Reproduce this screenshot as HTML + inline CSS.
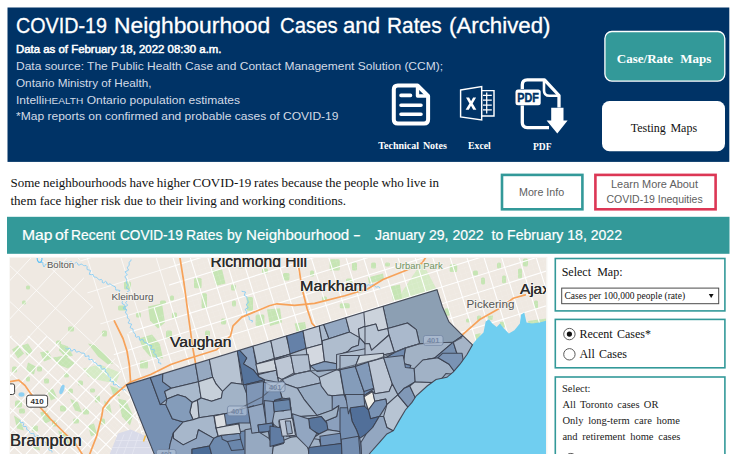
<!DOCTYPE html>
<html lang="en"><head><meta charset="utf-8"><title>COVID-19 Neighbourhood Cases and Rates (Archived)</title>
<style>
html,body{margin:0;padding:0;background:#fff;}
body{width:736px;height:454px;position:relative;overflow:hidden;font-family:"Liberation Sans",sans-serif;}
.a{position:absolute;box-sizing:border-box;}
.t{position:absolute;white-space:pre;line-height:1;transform-origin:0 50%;}
svg{position:absolute;display:block;}

</style></head>
<body>
<svg style="left:0;top:0" width="736" height="454" viewBox="0 0 736 454">
<!-- header -->
<rect x="7.5" y="7.5" width="721.8" height="154.4" fill="#003366"/>
<!-- nav buttons -->
<rect x="604.9" y="31.5" width="119.9" height="49.6" rx="7" fill="#339999" stroke="#fff" stroke-width="1.3"/>
<rect x="602" y="101" width="123" height="50.2" rx="7.5" fill="#fff"/>
<!-- info buttons -->
<rect x="502" y="174.9" width="80.4" height="34.4" fill="#fff" stroke="#339999" stroke-width="2.6"/>
<rect x="595.4" y="174.9" width="120.2" height="34.4" fill="#fff" stroke="#dc3755" stroke-width="2.6"/>
<!-- banner -->
<rect x="7" y="216.8" width="722.5" height="37" fill="#339999"/>
<!-- map frame -->
<rect x="9.4" y="256.9" width="538" height="200" fill="#f6f4f1"/>
<!-- right panel boxes -->
<g fill="#fff" stroke="#339999" stroke-width="1.6">
<rect x="555.3" y="258.5" width="169.6" height="52.4"/>
<rect x="555.3" y="319.4" width="169.6" height="48.4"/>
<rect x="555.3" y="377" width="169.6" height="90"/>
</g>
<!-- select -->
<rect x="561.7" y="288.1" width="157" height="15.6" fill="#fff" stroke="#4a4a4a" stroke-width="1"/>
<path d="M708.8 294.1 H713.6 L711.2 298.1 Z" fill="#111"/>
<!-- radios -->
<g fill="#fff" stroke="#5a5a5a" stroke-width="1">
<circle cx="569.4" cy="334.1" r="5.7"/>
<circle cx="569.4" cy="354.3" r="5.7"/>
<circle cx="570.8" cy="459.1" r="5.7"/>
</g>
<circle cx="569.4" cy="334.1" r="2.6" fill="#111"/>
</svg>

<svg style="left:0;top:0" width="736" height="170" viewBox="0 0 736 170">
<!-- Technical notes: document icon -->
<g fill="none" stroke="#fff" stroke-width="4" stroke-linejoin="round" stroke-linecap="round">
<path d="M397.8 85.5 H417.5 L428.1 96 V119.6 Q428.1 123.6 424.1 123.6 H397.8 Q393.8 123.6 393.8 119.6 V89.5 Q393.8 85.5 397.8 85.5 Z"/>
<path d="M417.5 86.5 V96 H427.5" stroke-width="3.4"/>
</g>
<g stroke="#fff" stroke-width="3.6" stroke-linecap="round">
<path d="M401 95.4 H410.5 M401 105.2 H421 M401 114.2 H421"/>
</g>
<!-- Excel icon -->
<g fill="none" stroke="#fff" stroke-width="1.45" stroke-linejoin="miter">
<path d="M460.6 90 L481.7 86.6 V120 L460.6 116.9 Z"/>
<path d="M481.7 90.6 H494 V115.9 H481.7"/>
<path d="M483 95.4 H491.8 M483 100.2 H491.8 M483 105 H491.8 M483 109.8 H491.8 M486.7 92.5 V113.5" stroke-width="1.25"/>
</g>
<path d="M466 97.4 L469.1 97.4 L471.1 101.3 L473.1 97.4 L476.1 97.4 L472.7 103.5 L476.4 109.8 L473.2 109.8 L471 105.7 L468.8 109.8 L465.6 109.8 L469.4 103.5 Z" fill="#fff"/>
<!-- PDF icon -->
<g fill="none" stroke="#fff" stroke-width="3.3" stroke-linejoin="round" stroke-linecap="butt">
<path d="M522.3 89 V84.8 Q522.3 79.8 527.3 79.8 H544.5 L559 95.5 V107.5"/>
<path d="M544 80.5 V90.5 Q544 95.8 549.5 95.8 H558.5" stroke-width="2.6"/>
<path d="M522.3 105.5 V122.6 Q522.3 127.6 527.3 127.6 H549"/>
</g>
<rect x="515.5" y="89.4" width="25.2" height="15.9" rx="2.5" fill="#fff"/>
<text x="517.3" y="101.9" font-family="'Liberation Sans',sans-serif" font-weight="700" font-size="12.4" fill="#003366" stroke="#003366" stroke-width="0.45" textLength="21.6" lengthAdjust="spacingAndGlyphs">PDF</text>
<path d="M551.2 107.7 H563.5 V120.6 H567.6 L557.3 133.5 L546.6 120.6 H551.2 Z" fill="#fff"/>
</svg>
<svg style="left:10.0px;top:257.5px" width="536.4" height="196.5" viewBox="10.0 257.5 536.4 196.5">
<defs>
<clipPath id="cT"><polygon points="126.5,384.4 437.0,289.2 442.4,306.2 449.0,321.4 461.0,333.4 472.5,344.3 467.0,354.0 460.0,363.7 453.4,371.4 446.9,376.8 436.0,379.0 427.2,385.5 416.3,395.3 412.0,401.9 405.4,409.5 398.9,420.4 393.4,430.2 386.9,433.5 379.3,442.2 370.5,452.0 366.0,458.0 156.0,458.0"/></clipPath>
<clipPath id="cN"><polygon points="169,250 560,250 560,460 150,460 126.5,384.4 118,364 112,350 128,333 169,292"/></clipPath>
<clipPath id="cR"><polygon points="78,250 169,250 169,292 128,333 112,350 88,295"/></clipPath>
<clipPath id="cW"><polygon points="0,250 78,250 88,295 118,364 100,362 45,335 0,335"/></clipPath>
<clipPath id="cW2"><polygon points="0,335 45,335 100,362 118,364 126.5,384.4 156,460 0,460"/></clipPath>
<clipPath id="cNu"><polygon points="118,350 140,335 175,300 180,258 470,258 560,258 560,460 150,460 126.5,384.4 118,364"/></clipPath>
</defs>
<rect x="0" y="250" width="560" height="210" fill="#efe9e2"/>
<polygon points="422.0,261.3 437.0,289.4 398.2,300.3 402.0,291.5 409.5,280.2" fill="#d6ebc6"/>
<polygon points="390.6,286.0 400.0,284.0 402.0,298.0 393.0,300.0" fill="#c6e5b4"/>
<polygon points="368.0,277.0 383.0,273.0 384.0,279.0 369.0,283.0" fill="#c6e5b4"/>
<rect x="449.7" y="263.8" width="7.5" height="7.6" rx="1.5" fill="#c6e5b4"/>
<rect x="444.6" y="307.8" width="5.1" height="7.5" rx="1.5" fill="#c6e5b4"/>
<rect x="502" y="275" width="4.0" height="7.7" rx="1.5" fill="#c6e5b4"/>
<rect x="500" y="321.6" width="5.0" height="5.0" rx="1.5" fill="#c6e5b4"/>
<rect x="497" y="262" width="4.0" height="6.0" rx="1.5" fill="#c6e5b4"/>
<rect x="473" y="270" width="5.0" height="5.0" rx="1.5" fill="#c6e5b4"/>
<rect x="481" y="277" width="4.0" height="7.0" rx="1.5" fill="#c6e5b4"/>
<rect x="518" y="268" width="4.0" height="10.0" rx="1.5" fill="#c6e5b4"/>
<rect x="523" y="258" width="5.0" height="8.0" rx="1.5" fill="#c6e5b4"/>
<rect x="534" y="300" width="4.0" height="8.0" rx="1.5" fill="#c6e5b4"/>
<rect x="477" y="315" width="4.0" height="5.0" rx="1.5" fill="#c6e5b4"/>
<rect x="466" y="318" width="4.0" height="4.0" rx="1.5" fill="#c6e5b4"/>
<polygon points="475.0,334.0 480.5,332.6 480.0,339.0 476.0,342.3" fill="#c6e5b4"/>
<polygon points="500.0,321.5 505.0,321.0 504.5,327.0 501.0,328.0" fill="#c6e5b4"/>
<polygon points="528.0,320.4 546.0,318.0 546.0,321.5 529.0,324.0" fill="#c6e5b4"/>
<polygon points="487.6,315.5 493.0,315.0 492.5,319.4 488.5,319.0" fill="#c6e5b4"/>
<polygon points="211.6,270.0 222.0,268.8 225.5,283.0 216.0,285.2" fill="#c6e5b4"/>
<rect x="194" y="277.6" width="7.6" height="10.1" rx="1.5" fill="#c6e5b4"/>
<rect x="201.6" y="292.7" width="5.4" height="15.1" rx="1.5" fill="#c6e5b4"/>
<rect x="246.8" y="296.5" width="6.2" height="13.8" rx="1.5" fill="#c6e5b4"/>
<rect x="255.6" y="314" width="8.8" height="11.4" rx="1.5" fill="#c6e5b4"/>
<polygon points="267.0,309.0 280.0,307.8 282.0,322.0 270.0,325.4" fill="#c6e5b4"/>
<polygon points="294.6,323.0 305.0,321.6 307.0,332.0 297.0,333.0" fill="#c6e5b4"/>
<rect x="283" y="272.6" width="6.5" height="7.4" rx="1.5" fill="#c6e5b4"/>
<rect x="329.7" y="258.8" width="10.1" height="11.2" rx="1.5" fill="#c6e5b4"/>
<rect x="339.8" y="302.8" width="10.0" height="5.0" rx="1.5" fill="#c6e5b4"/>
<rect x="231" y="284" width="5.0" height="6.0" rx="1.5" fill="#c6e5b4"/>
<rect x="238" y="262" width="5.0" height="6.0" rx="1.5" fill="#c6e5b4"/>
<rect x="262" y="268" width="6.0" height="5.0" rx="1.5" fill="#c6e5b4"/>
<rect x="310" y="270" width="4.0" height="6.0" rx="1.5" fill="#c6e5b4"/>
<rect x="352" y="262" width="5.0" height="8.0" rx="1.5" fill="#c6e5b4"/>
<rect x="346" y="278" width="6.0" height="6.0" rx="1.5" fill="#c6e5b4"/>
<rect x="322" y="296" width="5.0" height="5.0" rx="1.5" fill="#c6e5b4"/>
<rect x="232" y="300" width="4.0" height="6.0" rx="1.5" fill="#c6e5b4"/>
<rect x="221" y="318" width="5.0" height="6.0" rx="1.5" fill="#c6e5b4"/>
<rect x="205" y="330" width="5.0" height="6.0" rx="1.5" fill="#c6e5b4"/>
<rect x="354" y="288" width="8.0" height="4.0" rx="1.5" fill="#c6e5b4"/>
<rect x="371" y="262" width="5.0" height="6.0" rx="1.5" fill="#c6e5b4"/>
<rect x="385" y="262" width="5.0" height="4.0" rx="1.5" fill="#c6e5b4"/>
<polygon points="148.0,306.0 162.0,303.0 165.0,322.0 158.0,328.0 150.0,320.0" fill="#c6e5b4"/>
<polygon points="139.0,338.0 152.0,334.0 160.0,344.0 163.0,358.0 150.0,356.0 143.0,348.0" fill="#c6e5b4"/>
<rect x="124" y="281" width="7.0" height="8.0" rx="1.5" fill="#c6e5b4"/>
<rect x="170" y="295" width="4.0" height="5.0" rx="1.5" fill="#c6e5b4"/>
<rect x="118" y="305" width="8.0" height="5.0" rx="1.5" fill="#c6e5b4"/>
<rect x="136" y="312" width="5.0" height="5.0" rx="1.5" fill="#c6e5b4"/>
<rect x="166" y="330" width="6.0" height="8.0" rx="1.5" fill="#c6e5b4"/>
<rect x="140" y="360" width="8.0" height="8.0" rx="1.5" fill="#c6e5b4"/>
<rect x="160" y="300" width="6.0" height="4.0" rx="1.5" fill="#c6e5b4"/>
<rect x="172" y="312" width="5.0" height="6.0" rx="1.5" fill="#c6e5b4"/>
<polygon points="12.0,349.0 18.0,345.0 24.0,353.0 18.0,358.0" fill="#c6e5b4"/>
<polygon points="22.0,345.0 28.0,343.0 33.0,351.0 27.0,355.0" fill="#c6e5b4"/>
<polygon points="53.0,357.0 65.0,355.0 75.0,363.0 68.0,368.0 58.0,364.0" fill="#c6e5b4"/>
<polygon points="83.0,368.0 100.0,364.0 120.0,372.0 116.0,383.0 100.0,380.0 88.0,376.0" fill="#d6ebc6"/>
<polygon points="88.0,343.0 96.0,345.0 104.0,353.0 113.0,363.0 108.0,364.0 98.0,356.0" fill="#c6e5b4"/>
<rect x="37" y="366" width="5.0" height="5.0" rx="1.5" fill="#c6e5b4"/>
<rect x="44" y="378" width="5.0" height="5.0" rx="1.5" fill="#c6e5b4"/>
<rect x="60" y="405" width="6.0" height="6.0" rx="1.5" fill="#c6e5b4"/>
<rect x="73" y="418" width="6.0" height="5.0" rx="1.5" fill="#c6e5b4"/>
<rect x="83" y="408" width="6.0" height="6.0" rx="1.5" fill="#c6e5b4"/>
<rect x="52" y="420" width="5.0" height="6.0" rx="1.5" fill="#c6e5b4"/>
<rect x="15" y="400" width="7.0" height="7.0" rx="1.5" fill="#c6e5b4"/>
<rect x="19" y="408" width="6.0" height="5.0" rx="1.5" fill="#c6e5b4"/>
<rect x="32" y="425" width="6.0" height="6.0" rx="1.5" fill="#c6e5b4"/>
<rect x="95" y="395" width="5.0" height="7.0" rx="1.5" fill="#c6e5b4"/>
<rect x="68" y="388" width="5.0" height="5.0" rx="1.5" fill="#c6e5b4"/>
<rect x="100" y="418" width="5.0" height="6.0" rx="1.5" fill="#c6e5b4"/>
<rect x="22" y="300" width="4.0" height="4.0" rx="1.5" fill="#c6e5b4"/>
<rect x="68" y="326" width="6.0" height="5.0" rx="1.5" fill="#c6e5b4"/>
<rect x="56" y="340" width="5.0" height="4.0" rx="1.5" fill="#c6e5b4"/>
<rect x="102" y="330" width="5.0" height="6.0" rx="1.5" fill="#c6e5b4"/>
<rect x="26" y="285" width="4.0" height="4.0" rx="1.5" fill="#c6e5b4"/>
<polygon points="118.0,398.0 126.0,400.0 133.0,415.0 130.0,425.0 122.0,416.0" fill="#c6e5b4"/>
<polygon points="60.0,343.0 68.0,346.0 73.0,355.0 66.0,357.0 59.0,350.0" fill="#c6e5b4"/>
<polygon points="40.0,352.0 48.0,350.0 52.0,358.0 44.0,361.0" fill="#c6e5b4"/>
<polygon points="28.0,362.0 36.0,366.0 34.0,374.0 26.0,370.0" fill="#c6e5b4"/>
<polygon points="47.0,390.0 53.0,388.0 57.0,397.0 51.0,400.0" fill="#c6e5b4"/>
<polygon points="70.0,398.0 78.0,402.0 82.0,412.0 75.0,410.0" fill="#c6e5b4"/>
<polygon points="40.0,412.0 46.0,410.0 52.0,420.0 45.0,423.0" fill="#c6e5b4"/>
<polygon points="14.0,415.0 20.0,419.0 24.0,430.0 17.0,428.0" fill="#c6e5b4"/>
<polygon points="88.0,425.0 94.0,423.0 97.0,433.0 91.0,436.0" fill="#c6e5b4"/>
<polygon points="104.0,400.0 110.0,404.0 112.0,414.0 106.0,410.0" fill="#c6e5b4"/>
<polygon points="58.0,430.0 66.0,434.0 70.0,444.0 62.0,441.0" fill="#c6e5b4"/>
<polygon points="30.0,436.0 38.0,440.0 40.0,450.0 33.0,448.0" fill="#c6e5b4"/>
<polygon points="110.0,385.0 118.0,388.0 120.0,396.0 113.0,394.0" fill="#c6e5b4"/>
<rect x="78" y="380" width="5.0" height="5.0" rx="1.5" fill="#c6e5b4"/>
<rect x="90" y="388" width="5.0" height="4.0" rx="1.5" fill="#c6e5b4"/>
<rect x="26" y="376" width="4.0" height="5.0" rx="1.5" fill="#c6e5b4"/>
<rect x="12" y="366" width="5.0" height="6.0" rx="1.5" fill="#c6e5b4"/>
<rect x="64" y="372" width="5.0" height="5.0" rx="1.5" fill="#c6e5b4"/>
<path d="M-126 169L504 -27M-121 185L509 -11M-116 201L514 4M-111 216L519 20M-106 232L524 36M-101 248L529 52M-96 264L534 67M-91 279L539 83M-87 295L544 99M-82 311L548 115M-77 327L553 130M-72 342L558 146M-67 358L563 162M-62 374L568 178M-57 390L573 193M-52 406L578 209M-47 421L583 225M-42 437L588 241M-37 453L593 256M-33 469L598 272M-28 484L602 288M-23 500L607 304M-18 516L612 320M-13 532L617 335M-8 547L622 351M-3 563L627 367M2 579L632 383M7 595L637 398M12 610L642 414M16 626L647 430M21 642L652 446M26 658L656 461M31 673L661 477M36 689L666 493M41 705L671 509M46 721L676 524M51 736L681 540" stroke="#fff" stroke-opacity="0.95" stroke-width="1.1" fill="none" clip-path="url(#cN)"/>
<path d="M459 -46L655 584M443 -41L640 589M428 -36L624 594M412 -31L608 599M396 -26L592 604M380 -21L577 609M365 -17L561 614M349 -12L545 618M333 -7L529 623M317 -2L514 628M302 3L498 633M286 8L482 638M270 13L466 643M254 18L451 648M238 23L435 653M223 28L419 658M207 32L403 663M191 37L388 668M175 42L372 672M160 47L356 677M144 52L340 682M128 57L324 687M112 62L309 692M97 67L293 697M81 72L277 702M65 77L261 707M49 82L246 712M34 86L230 717M18 91L214 722M2 96L198 726M-14 101L183 731M-29 106L167 736M-45 111L151 741M-61 116L135 746M-77 121L120 751M-92 126L104 756" stroke="#fff" stroke-opacity="0.95" stroke-width="1.1" fill="none" clip-path="url(#cN)"/>
<path d="M-121 185L509 -11M-111 216L519 20M-101 248L529 52M-91 279L539 83M-82 311L548 115M-72 342L558 146M-62 374L568 178M-52 406L578 209M-42 437L588 241M-33 469L598 272M-23 500L607 304M-13 532L617 335M-3 563L627 367M7 595L637 398M16 626L647 430M26 658L656 461M36 689L666 493M46 721L676 524" stroke="#fff" stroke-opacity="0.9" stroke-width="0.8" fill="none" clip-path="url(#cR)"/>
<path d="M443 -41L640 589M412 -31L608 599M380 -21L577 609M349 -12L545 618M317 -2L514 628M286 8L482 638M254 18L451 648M223 28L419 658M191 37L388 668M160 47L356 677M128 57L324 687M97 67L293 697M65 77L261 707M34 86L230 717M2 96L198 726M-29 106L167 736M-61 116L135 746M-92 126L104 756" stroke="#fff" stroke-opacity="0.9" stroke-width="0.8" fill="none" clip-path="url(#cR)"/>
<path d="M-126 169L504 -27M-124 174L506 -22M-123 180L508 -17M-121 185L509 -11M-119 190L511 -6M-118 195L513 -1M-116 201L514 4M-114 206L516 10M-113 211L517 15M-111 216L519 20M-109 222L521 25M-108 227L522 31M-106 232L524 36M-105 237L526 41M-103 243L527 46M-101 248L529 52M-100 253L530 57M-98 258L532 62M-96 264L534 67M-95 269L535 73M-93 274L537 78M-91 279L539 83M-90 285L540 88M-88 290L542 94M-87 295L544 99M-85 300L545 104M-83 306L547 109M-82 311L548 115M-80 316L550 120M-78 321L552 125M-77 327L553 130M-75 332L555 136M-73 337L557 141M-72 342L558 146M-70 348L560 151M-69 353L562 157M-67 358L563 162M-65 363L565 167M-64 369L566 172M-62 374L568 178M-60 379L570 183M-59 384L571 188M-57 390L573 193M-55 395L575 199M-54 400L576 204M-52 406L578 209M-51 411L580 214M-49 416L581 220M-47 421L583 225M-46 427L584 230M-44 432L586 235M-42 437L588 241M-41 442L589 246M-39 448L591 251M-37 453L593 256M-36 458L594 262M-34 463L596 267M-33 469L598 272M-31 474L599 277M-29 479L601 283M-28 484L602 288M-26 490L604 293M-24 495L606 299M-23 500L607 304M-21 505L609 309M-20 511L611 314M-18 516L612 320M-16 521L614 325M-15 526L616 330M-13 532L617 335M-11 537L619 341M-10 542L620 346M-8 547L622 351M-6 553L624 356M-5 558L625 362M-3 563L627 367M-2 568L629 372M0 574L630 377M2 579L632 383M3 584L634 388M5 589L635 393M7 595L637 398M8 600L638 404M10 605L640 409M12 610L642 414M13 616L643 419M15 621L645 425M16 626L647 430M18 631L648 435M20 637L650 440M21 642L652 446M23 647L653 451M25 652L655 456M26 658L656 461M28 663L658 467M30 668L660 472M31 673L661 477M33 679L663 482M34 684L665 488M36 689L666 493M38 694L668 498M39 700L670 503M41 705L671 509M43 710L673 514M44 715L674 519M46 721L676 524M48 726L678 530M49 731L679 535M51 736L681 540" stroke="#fff" stroke-opacity="0.2" stroke-width="0.5" fill="none" clip-path="url(#cNu)"/>
<path d="M464 -48L661 582M459 -46L655 584M454 -44L650 586M449 -43L645 587M443 -41L640 589M438 -39L634 591M433 -38L629 592M428 -36L624 594M422 -35L619 596M417 -33L613 597M412 -31L608 599M407 -30L603 600M401 -28L598 602M396 -26L592 604M391 -25L587 605M386 -23L582 607M380 -21L577 609M375 -20L571 610M370 -18L566 612M365 -17L561 614M359 -15L556 615M354 -13L550 617M349 -12L545 618M344 -10L540 620M338 -8L535 622M333 -7L529 623M328 -5L524 625M323 -4L519 627M317 -2L514 628M312 -0L508 630M307 1L503 632M302 3L498 633M296 5L493 635M291 6L487 636M286 8L482 638M281 10L477 640M275 11L472 641M270 13L466 643M265 14L461 645M260 16L456 646M254 18L451 648M249 19L445 650M244 21L440 651M238 23L435 653M233 24L430 654M228 26L424 656M223 28L419 658M217 29L414 659M212 31L409 661M207 32L403 663M202 34L398 664M196 36L393 666M191 37L388 668M186 39L382 669M181 41L377 671M175 42L372 672M170 44L366 674M165 46L361 676M160 47L356 677M154 49L351 679M149 50L345 681M144 52L340 682M139 54L335 684M133 55L330 686M128 57L324 687M123 59L319 689M118 60L314 690M112 62L309 692M107 64L303 694M102 65L298 695M97 67L293 697M91 68L288 699M86 70L282 700M81 72L277 702M76 73L272 704M70 75L267 705M65 77L261 707M60 78L256 708M55 80L251 710M49 82L246 712M44 83L240 713M39 85L235 715M34 86L230 717M28 88L225 718M23 90L219 720M18 91L214 722M13 93L209 723M7 95L204 725M2 96L198 726M-3 98L193 728M-8 100L188 730M-14 101L183 731M-19 103L177 733M-24 104L172 735M-29 106L167 736M-35 108L162 738M-40 109L156 739M-45 111L151 741M-50 113L146 743M-56 114L141 744M-61 116L135 746M-66 118L130 748M-71 119L125 749M-77 121L120 751M-82 122L114 753M-87 124L109 754M-92 126L104 756M-98 127L99 757M-103 129L93 759" stroke="#fff" stroke-opacity="0.2" stroke-width="0.5" fill="none" clip-path="url(#cNu)"/>
<path d="M-147 410L303 -72M-128 428L322 -55M-109 446L341 -37M-90 464L360 -19M-71 481L379 -1M-52 499L398 16M-33 517L417 34M-14 535L436 52M5 552L455 70M24 570L474 87M43 588L493 105M62 605L512 123M81 623L531 141M100 641L550 158M119 659L569 176M138 676L588 194M157 694L607 211M176 712L626 229M195 730L645 247M214 747L664 265M233 765L683 282M252 783L702 300M271 801L721 318" stroke="#fff" stroke-opacity="0.9" stroke-width="0.8" fill="none" clip-path="url(#cW)"/>
<path d="M241 -88L724 362M223 -69L706 381M205 -50L688 400M188 -31L670 419M170 -12L653 438M152 7L635 457M135 26L617 476M117 45L599 495M99 64L582 514M81 83L564 533M64 102L546 552M46 121L529 571M28 140L511 590M10 159L493 609M-7 178L475 628M-25 197L458 647M-43 216L440 666M-61 235L422 685M-78 254L404 704M-96 273L387 723M-114 292L369 742M-131 311L351 761M-149 330L334 780M-167 349L316 799" stroke="#fff" stroke-opacity="0.9" stroke-width="0.8" fill="none" clip-path="url(#cW)"/>
<path d="M-157 402L293 -81M-147 410L303 -72M-138 419L312 -63M-128 428L322 -55M-119 437L331 -46M-109 446L341 -37M-100 455L350 -28M-90 464L360 -19M-81 473L369 -10M-71 481L379 -1M-62 490L388 8M-52 499L398 16M-43 508L407 25M-33 517L417 34M-24 526L426 43M-14 535L436 52M-5 543L445 61M5 552L455 70M14 561L464 78M24 570L474 87M33 579L483 96M43 588L493 105M52 597L502 114M62 605L512 123M71 614L521 132M81 623L531 141M90 632L540 149M100 641L550 158M109 650L559 167M119 659L569 176M128 668L578 185M138 676L588 194M147 685L597 203M157 694L607 211M166 703L616 220M176 712L626 229M185 721L635 238M195 730L645 247M204 738L654 256M214 747L664 265M223 756L673 274M233 765L683 282M242 774L692 291M252 783L702 300M261 792L711 309M271 801L721 318" stroke="#fff" stroke-opacity="0.95" stroke-width="1.1" fill="none" clip-path="url(#cW2)"/>
<path d="M241 -88L724 362M232 -79L715 372M223 -69L706 381M214 -60L697 391M205 -50L688 400M197 -41L679 410M188 -31L670 419M179 -22L662 429M170 -12L653 438M161 -3L644 448M152 7L635 457M143 16L626 467M135 26L617 476M126 35L608 486M117 45L599 495M108 55L591 505M99 64L582 514M90 74L573 524M81 83L564 533M72 93L555 543M64 102L546 552M55 112L537 562M46 121L529 571M37 131L520 581M28 140L511 590M19 150L502 600M10 159L493 609M2 169L484 619M-7 178L475 628M-16 188L466 638M-25 197L458 647M-34 207L449 657M-43 216L440 666M-52 226L431 676M-61 235L422 685M-69 245L413 695M-78 254L404 704M-87 264L396 714M-96 273L387 723M-105 283L378 733M-114 292L369 742M-123 302L360 752M-131 311L351 761M-140 321L342 771M-149 330L334 780M-158 340L325 790M-167 349L316 799" stroke="#fff" stroke-opacity="0.95" stroke-width="1.1" fill="none" clip-path="url(#cW2)"/>
<path d="M-166 393L284 -90M-163 396L287 -87M-160 399L290 -84M-157 402L293 -81M-154 405L296 -78M-151 408L300 -75M-147 411L303 -72M-144 413L306 -69M-141 416L309 -66M-138 419L312 -63M-135 422L315 -60M-132 425L319 -57M-128 428L322 -54M-125 431L325 -52M-122 434L328 -49M-119 437L331 -46M-116 440L334 -43M-113 443L338 -40M-109 446L341 -37M-106 449L344 -34M-103 452L347 -31M-100 455L350 -28M-97 458L353 -25M-94 461L357 -22M-90 464L360 -19M-87 467L363 -16M-84 470L366 -13M-81 473L369 -10M-78 475L372 -7M-75 478L376 -4M-71 481L379 -1M-68 484L382 2M-65 487L385 5M-62 490L388 8M-59 493L391 11M-56 496L395 13M-52 499L398 16M-49 502L401 19M-46 505L404 22M-43 508L407 25M-40 511L410 28M-37 514L414 31M-33 517L417 34M-30 520L420 37M-27 523L423 40M-24 526L426 43M-21 529L429 46M-18 532L433 49M-14 535L436 52M-11 537L439 55M-8 540L442 58M-5 543L445 61M-2 546L448 64M1 549L452 67M5 552L455 70M8 555L458 73M11 558L461 75M14 561L464 78M17 564L467 81M20 567L471 84M24 570L474 87M27 573L477 90M30 576L480 93M33 579L483 96M36 582L486 99M39 585L490 102M43 588L493 105M46 591L496 108M49 594L499 111M52 597L502 114M55 600L505 117M58 602L509 120M62 605L512 123M65 608L515 126M68 611L518 129M71 614L521 132M74 617L524 135M77 620L528 137M81 623L531 140M84 626L534 143M87 629L537 146M90 632L540 149M93 635L543 152M96 638L547 155M100 641L550 158M103 644L553 161M106 647L556 164M109 650L559 167M112 653L562 170M115 656L566 173M119 659L569 176M122 662L572 179M125 664L575 182M128 667L578 185M131 670L581 188M134 673L585 191M138 676L588 194M141 679L591 197M144 682L594 199M147 685L597 202M150 688L600 205M153 691L604 208M157 694L607 211M160 697L610 214M163 700L613 217M166 703L616 220M169 706L619 223M172 709L623 226M176 712L626 229M179 715L629 232M182 718L632 235M185 721L635 238M188 724L638 241M191 726L642 244M195 729L645 247M198 732L648 250M201 735L651 253M204 738L654 256M207 741L657 259M210 744L661 262M214 747L664 264M217 750L667 267M220 753L670 270M223 756L673 273M226 759L676 276M229 762L680 279M233 765L683 282M236 768L686 285M239 771L689 288M242 774L692 291M245 777L695 294M248 780L699 297M252 783L702 300M255 786L705 303M258 789L708 306M261 791L711 309M264 794L714 312M267 797L718 315M271 800L721 318" stroke="#fff" stroke-opacity="0.2" stroke-width="0.5" fill="none" clip-path="url(#cW2)"/>
<path d="M241 -88L723 362M238 -85L720 365M235 -81L717 369M232 -78L714 372M229 -75L712 375M226 -72L709 378M223 -69L706 381M220 -66L703 384M217 -62L700 388M214 -59L697 391M211 -56L694 394M208 -53L691 397M205 -50L688 400M202 -47L685 403M199 -43L682 407M196 -40L679 410M193 -37L676 413M190 -34L673 416M188 -31L670 419M185 -28L667 422M182 -24L664 426M179 -21L661 429M176 -18L658 432M173 -15L655 435M170 -12L652 438M167 -9L650 441M164 -5L647 445M161 -2L644 448M158 1L641 451M155 4L638 454M152 7L635 457M149 10L632 460M146 14L629 464M143 17L626 467M140 20L623 470M137 23L620 473M134 26L617 476M131 29L614 479M128 33L611 483M125 36L608 486M123 39L605 489M120 42L602 492M117 45L599 495M114 48L596 498M111 52L593 502M108 55L590 505M105 58L588 508M102 61L585 511M99 64L582 514M96 67L579 517M93 71L576 521M90 74L573 524M87 77L570 527M84 80L567 530M81 83L564 533M78 86L561 536M75 90L558 540M72 93L555 543M69 96L552 546M66 99L549 549M63 102L546 552M61 105L543 555M58 109L540 559M55 112L537 562M52 115L534 565M49 118L531 568M46 121L528 571M43 124L525 574M40 128L523 578M37 131L520 581M34 134L517 584M31 137L514 587M28 140L511 590M25 143L508 593M22 147L505 597M19 150L502 600M16 153L499 603M13 156L496 606M10 159L493 609M7 162L490 612M4 166L487 616M1 169L484 619M-1 172L481 622M-4 175L478 625M-7 178L475 628M-10 181L472 631M-13 185L469 635M-16 188L466 638M-19 191L463 641M-22 194L461 644M-25 197L458 647M-28 200L455 650M-31 204L452 654M-34 207L449 657M-37 210L446 660M-40 213L443 663M-43 216L440 666M-46 219L437 669M-49 223L434 673M-52 226L431 676M-55 229L428 679M-58 232L425 682M-61 235L422 685M-64 238L419 688M-66 242L416 692M-69 245L413 695M-72 248L410 698M-75 251L407 701M-78 254L404 704M-81 257L401 707M-84 261L399 711M-87 264L396 714M-90 267L393 717M-93 270L390 720M-96 273L387 723M-99 276L384 726M-102 280L381 730M-105 283L378 733M-108 286L375 736M-111 289L372 739M-114 292L369 742M-117 295L366 745M-120 299L363 749M-123 302L360 752M-126 305L357 755M-128 308L354 758M-131 311L351 761M-134 314L348 764M-137 318L345 768M-140 321L342 771M-143 324L339 774M-146 327L336 777M-149 330L334 780M-152 333L331 783M-155 337L328 787M-158 340L325 790M-161 343L322 793M-164 346L319 796M-167 349L316 799" stroke="#fff" stroke-opacity="0.2" stroke-width="0.5" fill="none" clip-path="url(#cW2)"/>
<polygon points="108,458 118,433 130.6,429 145.7,435.5 155,458" fill="#d9dbe9"/>
<path d="M114,458 L124,434 M122,458 L132,431 M131,458 L139,433 M112,447 L150,447 M116,440 L148,440" stroke="#e6e7f1" stroke-width="0.8" fill="none"/>
<path d="M38.8 261.5 L40.6 261.9 L42.9 262.0 L42.9 263.8 L43.9 266.5 L44.8 265.3 L45.5 263.6 L46.9 263.7 L48.3 264.0 L49.3 263.5 L50.4 262.6 L51.6 262.2 L52.8 262.9 L54.0 263.1 L55.2 261.6 L56.4 261.1 L57.7 263.0 L58.9 263.6 L60.0 261.5 L61.2 260.8 L62.5 262.2 L63.7 262.6 L64.9 261.8 L66.1 261.4 L67.3 261.7 L68.5 262.1 L69.7 261.7 L71.1 261.0 L72.3 261.9 L73.2 263.7 L74.6 263.3 L76.3 261.6 L77.4 262.5 L78.2 264.6 L79.6 264.4 L81.1 263.5 L82.3 264.0 L83.4 264.9 L84.7 265.2 L86.2 265.1 L87.1 266.1 L87.0 267.7 L87.2 269.1 L89.1 269.5 L90.6 270.1 L89.7 272.2 L89.4 273.9 L91.5 274.2 L93.0 273.9 L93.5 275.5 L94.3 276.6 L95.6 276.7 L96.8 277.0 L97.7 277.8 L98.5 278.9 L99.7 279.4 L101.3 278.9 L102.2 279.7 L102.3 282.0 L103.7 282.4 L105.6 280.8 L106.6 281.5 L107.1 283.5 L108.3 283.9 L109.8 283.4 L110.9 283.8 L111.8 284.7 L112.8 285.2 L114.0 285.8 L115.3 286.3 L115.6 287.9 L115.8 289.6 L117.7 289.5 L120.0 290.0 L118.9 291.7 L118.0 293.3 L119.6 294.0 L121.0 294.9 L120.7 296.3 L120.6 297.6 L121.3 298.7 L122.1 299.7 L122.5 300.9 L122.1 302.3 L122.5 303.5 L124.4 304.1 L124.9 305.3 L123.3 307.2 L123.6 308.4 L126.0 308.8 L126.6 310.0 L125.5 311.6 L125.8 312.8 L126.9 313.7 L127.4 314.8 L127.4 316.1 L127.5 317.4 L128.4 318.4 L129.6 319.3 L129.1 320.8 L128.1 322.4 L129.6 323.1 L131.7 323.7 L130.9 325.2 L130.1 327.1 L131.4 327.8 L132.9 328.4 L133.1 329.7 L133.2 331.1 L133.8 332.2 L134.9 333.0 L135.5 334.1 L135.4 335.9 L136.2 336.8 L138.2 336.1 L139.4 336.3 L139.3 338.7 L139.9 339.9 L142.0 339.0 L143.3 339.3 L143.6 340.9 L144.4 341.9 L145.7 342.1 L146.9 342.5 L147.7 343.5 L148.4 344.6 L149.6 344.9 L151.7 345.0 L151.6 346.4 L150.6 348.4 L152.0 349.0 L154.3 349.2 L154.2 350.6 L153.5 352.5 L154.4 353.3 L155.8 354.0 L156.3 355.2 L156.4 356.5 L157.0 357.6 L158.1 358.4 L159.0 359.3 L158.6 361.0 L158.5 362.4 L160.7 362.6 L160.8 364.0" fill="none" stroke="#86cdf6" stroke-width="1.0" stroke-opacity="0.9" stroke-linejoin="round"/>
<path d="M131.1 259.0 L131.0 260.2 L129.7 261.0 L129.1 262.1 L129.2 263.5 L129.1 264.7 L128.4 265.7 L127.4 266.7 L127.7 268.1 L128.6 269.6 L127.2 270.4 L125.2 271.1 L125.9 272.6 L127.3 274.3 L126.0 274.9 L124.9 276.4 L125.7 277.6 L126.6 278.7 L126.6 280.0 L126.3 281.3 L126.5 282.5 L127.5 283.7 L127.9 284.9 L126.7 286.4 L126.4 287.7 L128.6 288.6 L129.4 290.2 L127.3 291.1 L126.5 292.2 L127.8 293.6 L128.1 294.9 L127.2 296.0 L126.8 297.1 L127.0 298.4 L127.3 299.6 L126.8 300.8 L125.7 301.8 L126.2 303.1 L127.6 304.5 L126.7 305.6 L124.6 306.5 L125.2 307.8 L126.8 309.2 L125.6 310.3" fill="none" stroke="#86cdf6" stroke-width="1.0" stroke-opacity="0.9" stroke-linejoin="round"/>
<path d="M65.3 347.3 L66.4 348.3 L67.5 348.6 L69.1 347.7 L70.3 348.0 L70.9 350.2 L72.0 350.7 L73.8 349.0 L75.1 349.1 L75.8 351.1 L76.9 351.7 L78.3 351.0 L79.6 351.2 L80.6 352.0 L81.7 352.6 L83.0 352.6 L84.4 352.8 L84.9 354.1 L85.1 355.9 L86.7 355.8 L88.8 355.2 L89.0 356.9 L88.9 359.1 L90.4 359.1 L92.2 358.9 L92.8 360.0 L93.3 361.4 L94.4 362.0 L95.7 362.4 L96.7 363.1 L97.2 364.5 L98.1 365.4 L99.9 365.0 L101.2 365.3 L101.0 367.7 L101.6 368.9 L103.8 368.1 L105.2 368.3 L105.3 370.1 L105.5 371.4 L106.8 372.1 L107.7 373.0 L108.0 374.2 L108.2 375.5 L109.2 376.4 L110.7 376.9 L110.8 378.3 L109.9 380.2 L111.3 380.9 L113.6 380.9 L113.4 382.1 L113.5 384.2 L114.8 384.4 L116.4 384.0 L117.4 384.8 L118.1 386.0 L119.2 386.6 L120.5 386.7 L121.7 387.1 L122.2 388.5 L123.0 389.7 L124.8 388.9 L125.6 390.0" fill="none" stroke="#86cdf6" stroke-width="1.0" stroke-opacity="0.9" stroke-linejoin="round"/>
<path d="M241.6 290.7 L243.6 291.1 L245.5 291.5 L244.8 293.3 L244.3 294.9 L245.6 295.6 L246.8 296.4 L247.0 297.7 L247.2 299.0 L247.8 300.0 L248.3 301.3 L248.1 302.5 L246.6 303.5 L246.3 304.6 L248.0 306.2 L248.0 307.4 L245.7 308.3 L245.2 309.4 L246.7 310.9 L246.7 311.6 L246.5 313.2 L247.0 314.4 L248.1 315.3 L249.0 316.3 L249.3 317.6 L249.3 319.1 L250.7 319.8 L252.5 320.2 L252.0 322.0" fill="none" stroke="#86cdf6" stroke-width="1.0" stroke-opacity="0.9" stroke-linejoin="round"/>
<path d="M352.2 282.6 L353.4 283.1 L354.4 284.2 L355.6 284.8 L357.1 284.9 L358.5 285.0 L359.4 286.2 L360.3 287.5 L361.9 286.8 L362.8 285.1 L364.5 286.2 L366.2 287.3 L367.0 285.7 L367.9 284.1 L369.4 284.6 L370.9 284.9 L371.9 284.1 L373.3 284.3 L374.4 285.0 L375.2 286.1 L376.4 286.7 L378.1 286.1 L379.3 286.6 L380.0 288.0" fill="none" stroke="#86cdf6" stroke-width="1.0" stroke-opacity="0.9" stroke-linejoin="round"/>
<path d="M20.2 419.8 L20.1 421.5 L21.1 422.2 L23.2 422.0 L23.8 423.1 L22.9 425.4 L23.8 426.2 L26.1 425.9 L26.7 426.9 L26.6 428.6 L27.4 429.5 L28.6 430.0 L29.5 430.9 L29.9 432.1 L30.8 433.1 L32.3 433.0 L33.8 432.8 L34.2 434.6 L34.6 436.4 L36.5 435.7 L38.3 435.0 L38.7 436.8 L39.2 438.4 L40.7 438.3 L42.1 438.3 L43.0 439.3 L43.8 440.2 L44.5 441.1 L45.7 441.7 L46.4 442.7 L45.9 444.5 L46.5 445.5 L48.9 445.4 L49.7 446.3 L48.6 448.5 L49.1 449.6 L51.1 449.7 L51.9 450.6 L52.0 452.0" fill="none" stroke="#86cdf6" stroke-width="1.0" stroke-opacity="0.9" stroke-linejoin="round"/>
<path d="M39,262 q-3,-3 -1,-6 q3,-2 4,2 q0,4 -3,4" fill="none" stroke="#5fc0f5" stroke-width="1.1"/>
<ellipse cx="62" cy="389" rx="2" ry="5" fill="#8fd0f2" transform="rotate(20 62 389)"/><ellipse cx="21.5" cy="394" rx="3" ry="2.2" fill="#8fd0f2"/>
<path d="M179.6 255.0 L184.0 282.7 L189.0 320.0 L192.8 347.5 L195.3 361.4 L197.0 372.0" fill="none" stroke="#f7a259" stroke-width="1.7" stroke-linejoin="round" stroke-linecap="round"/>
<path d="M114.3 320.4 L123.0 338.0 L127.0 350.5 L129.4 365.0 L130.6 381.5" fill="none" stroke="#f7a259" stroke-width="1.7" stroke-linejoin="round" stroke-linecap="round"/>
<path d="M88.0 458.0 L96.7 435.5 L101.8 415.4 L103.0 407.8 L110.5 397.8 L125.6 385.0 L130.6 381.5 L150.7 374.0 L170.8 364.0 L184.0 359.5 L216.7 349.2 L230.5 335.4 L233.0 325.4 L241.8 316.6 L269.4 305.3 L277.0 303.3 L294.5 304.8 L314.6 302.8 L344.8 295.2 L368.0 288.3 L383.0 279.0 L405.7 270.0 L422.0 262.6 L427.0 255.0" fill="none" stroke="#f7a259" stroke-width="1.7" stroke-linejoin="round" stroke-linecap="round"/>
<path d="M297.0 255.0 L302.0 287.7 L307.0 307.8 L312.0 322.9 L317.0 328.0 L320.0 336.0" fill="none" stroke="#f7a259" stroke-width="1.7" stroke-linejoin="round" stroke-linecap="round"/>
<path d="M8.0 381.5 L18.8 379.7 L25.0 385.0 L31.4 394.0 L40.0 406.6 L50.0 418.0 L65.0 433.0 L75.4 443.0 L85.0 458.0" fill="none" stroke="#f7a259" stroke-width="1.7" stroke-linejoin="round" stroke-linecap="round"/>
<path d="M461.5 335.2 L480.2 318.7 L497.9 308.8 L513.3 297.7 L525.4 294.4" fill="none" stroke="#f7a259" stroke-width="1.7" stroke-linejoin="round" stroke-linecap="round"/>
<path d="M145.5,435 l-2,6" stroke="#f7c04a" stroke-width="1.5"/>
<polygon points="472.5,344.0 476.9,338.5 483.5,331.9 485.7,320.9 489.0,318.7 492.3,323.1 496.7,326.4 500.0,323.1 503.4,327.5 508.9,333.0 514.4,329.7 519.9,323.1 521.0,314.3 524.3,312.0 526.5,322.0 532.0,323.1 539.7,322.0 560.0,316.0 560.0,470.0 356.0,470.0 366.0,458.0 370.5,452.0 379.3,442.2 386.9,433.5 393.4,430.2 398.9,420.4 405.4,409.5 412.0,401.9 416.3,395.3 427.2,385.5 436.0,379.0 446.9,376.8 453.4,371.4 460.0,363.7 467.0,354.0 472.5,344.3" fill="#70cef0"/>
<g clip-path="url(#cT)">
<polygon points="126.5,384.4 437.0,289.2 442.4,306.2 449.0,321.4 461.0,333.4 472.5,344.3 467.0,354.0 460.0,363.7 453.4,371.4 446.9,376.8 436.0,379.0 427.2,385.5 416.3,395.3 412.0,401.9 405.4,409.5 398.9,420.4 393.4,430.2 386.9,433.5 379.3,442.2 370.5,452.0 366.0,458.0 156.0,458.0" fill="#a1b2c6"/>
<g stroke="#383e4c" stroke-opacity="0.9" stroke-width="1.05" stroke-linejoin="round">
<polygon points="122.8,385.9 148.9,373.3 160.3,404.1 165.8,404.1 172.3,418.2 183.2,421.5 173.4,432.4 170.2,443.3 166.9,462.0 152.1,459.1" fill="#7690b2"/>
<polygon points="148.9,373.3 163.0,369.0 162.5,381.2 171.3,387.7 164.7,391.0 166.9,398.6 160.3,404.1" fill="#718caf"/>
<polygon points="163.0,369.0 194.7,359.3 198.5,381.2 171.3,387.7 162.5,381.2" fill="#93a7c1"/>
<polygon points="171.3,387.7 198.5,381.2 201.1,397.5 192.0,401.9 185.4,396.4 177.8,394.3 166.9,398.6 164.7,391.0" fill="#a9b9cc"/>
<polygon points="194.7,359.3 208.6,355.0 212.7,376.8 198.5,381.2" fill="#96a9c1"/>
<polygon points="208.6,355.0 236.8,346.4 242.1,383.8 231.2,382.3 222.5,391.0 216.0,383.4 212.7,376.8" fill="#b7c3d2"/>
<polygon points="198.5,381.2 212.7,376.8 216.0,383.4 222.5,391.0 221.4,397.5 211.6,400.8 201.1,397.5" fill="#c7d0da"/>
<polygon points="201.1,397.5 211.6,400.8 221.4,397.5 222.5,391.0 231.2,382.3 242.1,383.8 250.0,385.5 250.0,406.3 226.9,412.8 213.8,415.0 199.0,417.2 197.4,399.7" fill="#a2b3c7"/>
<polygon points="192.0,401.9 197.4,399.7 199.0,417.2 193.1,419.3 189.8,411.7" fill="#c9d1db"/>
<polygon points="166.9,398.6 177.8,394.3 185.4,396.4 192.0,401.9 189.8,411.7 193.1,419.3 183.2,421.5 172.3,418.2 165.8,404.1" fill="#849cba"/>
<polygon points="213.8,415.0 222.5,413.9 225.8,424.8 216.0,428.1" fill="#e9edf1"/>
<polygon points="216.0,428.1 238.9,422.6 240.0,431.3 218.1,435.7" fill="#ccd3dc"/>
<polygon points="222.5,413.9 250.0,406.3 250.0,422.6 238.9,422.6 225.8,424.8" fill="#718baf"/>
<polygon points="183.2,421.5 193.1,419.3 199.0,417.2 213.8,415.0 216.0,428.1 218.1,435.7 213.8,437.9 198.5,429.2 196.3,437.9 183.2,444.4 173.4,437.9 173.4,432.4" fill="#a7b7cb"/>
<polygon points="173.4,437.9 183.2,444.4 196.3,437.9 198.5,429.2 213.8,437.9 209.4,445.5 192.0,448.8 192.0,462.0 166.9,462.0 170.2,443.3 173.4,432.4" fill="#8ea3bf"/>
<polygon points="192.0,448.8 209.4,445.5 213.8,462.0 192.0,462.0" fill="#4b6c97"/>
<polygon points="218.1,435.7 240.0,431.3 250.0,429.2 250.0,462.0 213.8,462.0 209.4,445.5 213.8,437.9" fill="#6d89ad"/>
<polygon points="236.4,346.5 242.0,344.8 252.2,341.7 258.0,374.0 258.6,376.0 253.3,369.4 243.4,363.4 246.7,357.5" fill="#8da2be"/>
<polygon points="236.4,346.5 246.7,357.5 243.4,363.4 253.3,369.4 258.6,376.0 264.6,379.3 243.4,384.6 240.8,368.1" fill="#55739b"/>
<polygon points="252.2,341.7 270.0,336.2 274.5,358.1 256.7,363.4" fill="#b7c4d3"/>
<polygon points="256.7,363.4 274.5,358.1 276.5,369.6 258.6,374.0" fill="#cdd4dd"/>
<polygon points="270.0,336.2 285.2,331.6 291.0,353.5 274.5,358.1" fill="#b6c2d2"/>
<polygon points="274.5,358.1 291.0,353.5 295.0,368.1 295.0,374.7 283.8,380.0 278.5,381.9 276.5,369.6" fill="#bbc6d4"/>
<polygon points="258.6,374.0 276.5,369.6 278.5,381.9 264.6,379.3 258.6,376.0" fill="#a6b6ca"/>
<polygon points="243.4,384.6 264.6,379.3 260.6,397.1 248.1,397.1" fill="#748eb1"/>
<polygon points="285.9,331.3 302.3,326.3 306.1,348.0 290.1,353.4" fill="#6581a8"/>
<polygon points="302.3,326.3 318.6,321.3 322.4,343.6 306.1,348.0" fill="#bfc9d7"/>
<polygon points="306.1,348.0 322.4,343.6 324.6,361.1 310.4,365.4 307.2,356.7" fill="#d3d8e0"/>
<polygon points="318.6,321.3 322.3,320.2 329.0,338.2 322.4,340.3 322.4,343.6" fill="#abbacd"/>
<polygon points="322.3,320.2 344.8,313.3 349.7,331.6 329.0,338.2" fill="#94a8c2"/>
<polygon points="344.8,313.3 363.9,307.4 366.3,325.3 358.4,328.4 359.5,337.1 349.7,331.6" fill="#c2cbd8"/>
<polygon points="329.0,338.2 349.7,331.6 359.5,337.1 358.4,344.7 351.9,346.9 347.5,351.3 338.8,354.5 336.6,363.2 324.6,361.1 322.4,343.6 322.4,340.3" fill="#afbdce"/>
<polygon points="358.4,328.4 366.3,325.3 367.6,346.2 359.5,337.1" fill="#b9c5d3"/>
<polygon points="336.6,363.2 338.8,354.5 347.5,351.3 351.9,346.9 358.4,344.7 359.5,337.1 367.6,346.2 368.4,363.2 355.1,365.4 338.8,368.7" fill="#a4b4c9"/>
<polygon points="255.9,363.7 274.4,358.9 276.6,369.8 258.1,373.1" fill="#ced5dd"/>
<polygon points="274.4,358.9 290.1,353.4 294.1,372.0 277.7,377.4 276.6,369.8" fill="#a9b9cc"/>
<polygon points="290.1,353.4 306.1,348.0 307.2,356.7 310.4,365.4 310.4,369.8 294.1,372.0" fill="#afbdce"/>
<polygon points="310.4,365.4 324.6,361.1 336.6,363.2 338.8,368.7 317.0,370.9" fill="#829ab9"/>
<polygon points="274.4,359.4 290.8,355.0 294.1,372.4 282.1,379.0 277.7,376.8 276.6,369.2" fill="#bdc7d5"/>
<polygon points="290.8,355.0 308.2,353.9 310.4,370.3 295.2,373.5 294.1,372.4" fill="#b2bfd0"/>
<polygon points="336.6,353.9 375.0,346.3 375.0,359.4 336.6,369.2" fill="#afbdce"/>
<polygon points="339.9,370.3 356.2,365.9 362.8,394.3 363.9,407.3 349.7,408.4 344.2,394.3" fill="#879dbb"/>
<polygon points="356.2,365.9 375.0,360.5 375.0,387.7 363.9,395.3 362.8,394.3" fill="#6e89ae"/>
<polygon points="363.9,395.3 371.5,391.0 375.0,400.8 368.2,409.5" fill="#f0f0ee"/>
<polygon points="349.7,408.4 363.9,407.3 368.2,409.5 375.0,418.2 375.0,427.0 367.1,429.2 363.9,422.6 362.8,433.5 356.2,431.3 351.9,418.2" fill="#59769e"/>
<polygon points="282.1,379.0 295.2,373.5 310.4,370.3 319.2,376.8 321.3,382.3 297.3,387.7 285.3,383.4" fill="#aab9cc"/>
<polygon points="297.3,387.7 321.3,382.3 321.3,385.5 327.9,394.3 332.2,395.3 333.3,409.5 317.0,415.0 303.9,398.6" fill="#9aadc4"/>
<polygon points="279.9,389.9 285.3,383.4 297.3,387.7 303.9,398.6 317.0,415.0 299.5,416.1 298.4,422.6 291.9,418.2 290.8,407.3 288.6,398.6 282.1,397.5" fill="#a6b6ca"/>
<polygon points="319.2,376.8 336.6,369.2 339.9,370.3 344.2,394.3 332.2,395.3 327.9,394.3 321.3,385.5" fill="#b7c4d3"/>
<polygon points="332.2,395.3 344.2,394.3 349.7,408.4 351.9,418.2 354.1,430.2 351.9,435.7 341.0,431.3 327.9,429.2 325.7,420.4 336.6,416.1 338.8,405.2 332.2,409.5" fill="#8ba0bd"/>
<polygon points="299.5,416.1 317.0,415.0 332.2,409.5 338.8,405.2 336.6,416.1 325.7,420.4 326.8,422.6 321.3,416.1 308.2,418.2 310.4,429.2 319.2,433.5 312.6,437.9 308.2,448.8 303.9,435.7 299.5,435.7" fill="#a1b2c6"/>
<polygon points="308.2,418.2 321.3,416.1 326.8,422.6 327.9,429.2 319.2,433.5 310.4,429.2" fill="#58759c"/>
<polygon points="274.4,399.7 289.7,397.5 290.8,407.3 283.2,410.6 275.5,409.5" fill="#5e7aa0"/>
<polygon points="263.5,381.2 279.9,389.9 282.1,397.5 274.4,399.7 275.5,409.5 271.2,416.1 273.4,423.7 265.7,424.8 262.4,411.7" fill="#7a93b4"/>
<polygon points="246.1,384.4 261.4,381.2 263.5,381.2 262.4,411.7 265.7,424.8 258.1,427.0 253.7,405.2 247.2,407.3" fill="#7f96b6"/>
<polygon points="271.2,416.1 275.5,409.5 283.2,410.6 290.8,407.3 291.9,418.2 298.4,422.6 299.5,435.7 290.8,436.8 286.4,433.5 279.9,429.2 273.4,423.7" fill="#a6b6ca"/>
<polygon points="278.8,420.4 291.9,418.2 293.0,433.5 286.4,434.6 279.9,429.2" fill="#c1cbd8"/>
<polygon points="269.0,430.2 279.9,429.2 283.2,440.1 273.4,445.5 269.0,437.9" fill="#55739b"/>
<polygon points="258.1,427.0 273.4,423.7 273.4,429.2 260.3,432.4" fill="#748eb1"/>
<polygon points="319.2,439.0 341.0,434.6 342.1,442.2 321.3,446.6" fill="#607ca3"/>
<polygon points="310.4,448.8 331.2,446.6 332.2,462.0 310.4,462.0" fill="#4c6d97"/>
<polygon points="245.0,429.2 258.1,427.0 260.3,432.4 269.0,437.9 273.4,445.5 271.2,462.0 245.0,462.0" fill="#96a9c1"/>
<polygon points="273.4,445.5 283.2,440.1 290.8,436.8 299.5,435.7 303.9,435.7 308.2,448.8 310.4,462.0 271.2,462.0" fill="#acbbcd"/>
<polygon points="341.0,431.3 351.9,435.7 354.1,430.2 356.2,431.3 362.8,433.5 363.9,422.6 367.1,429.2 375.0,427.0 382.7,444.4 363.9,462.0 332.2,462.0 342.1,442.2 341.0,434.6 319.2,439.0 312.6,437.9 319.2,433.5 327.9,429.2" fill="#a4b4c9"/>
<polygon points="382.1,301.9 435.8,285.4 446.2,305.0 451.8,318.6 463.8,330.6 466.2,332.8 453.3,341.7 437.0,342.2 419.5,343.2 416.3,329.1 407.5,322.5 387.9,328.0" fill="#8c9fb3"/>
<polygon points="363.5,307.5 382.1,301.9 387.9,328.0 378.1,330.2 375.9,323.6 365.0,326.2" fill="#ccd3dc"/>
<polygon points="365.0,326.2 375.9,323.6 378.1,330.2 387.9,328.0 389.0,334.5 371.5,349.8 369.4,343.2 365.0,343.2" fill="#b8c4d3"/>
<polygon points="387.9,328.0 407.5,322.5 416.3,329.1 419.5,343.2 405.3,347.6 394.4,352.0 389.0,334.5" fill="#aab9cc"/>
<polygon points="365.0,343.2 369.4,343.2 371.5,349.8 389.0,334.5 394.4,352.0 365.0,358.5" fill="#b6c2d2"/>
<polygon points="419.5,343.2 437.0,342.2 453.3,341.7 434.8,357.4 423.9,359.6 417.3,367.2 416.3,380.3 404.3,380.3 410.8,365.1 403.2,362.9 405.3,347.6" fill="#a2b2c5"/>
<polygon points="453.3,341.7 456.6,352.0 464.5,364.3 457.8,372.4 445.7,361.8 434.8,357.4" fill="#768faf"/>
<polygon points="453.3,341.7 466.2,332.8 475.3,341.4 464.0,365.0 456.6,352.0" fill="#a5b4c7"/>
<polygon points="381.4,359.6 394.4,352.0 405.3,347.6 403.2,362.9 410.8,365.1 404.3,380.3 386.8,380.3" fill="#718baf"/>
<polygon points="365.0,358.5 394.4,352.0 381.4,359.6 386.8,380.3 365.0,380.3" fill="#b9c5d3"/>
<polygon points="417.3,367.2 423.9,359.6 434.8,357.4 445.7,361.8 457.8,372.4 451.7,378.0 445.7,380.3 416.3,380.3" fill="#9bacc1"/>
<polygon points="340.0,355.0 359.6,355.0 355.3,365.9 340.0,369.2" fill="#a9b9cc"/>
<polygon points="359.6,355.0 383.6,352.8 383.6,357.2 368.4,361.5 355.3,365.9" fill="#c9d2db"/>
<polygon points="340.0,369.2 355.3,365.9 364.0,391.0 364.0,405.2 349.8,407.3 344.4,394.3" fill="#849cba"/>
<polygon points="355.3,365.9 368.4,361.5 373.8,387.7 364.0,391.0" fill="#829ab9"/>
<polygon points="368.4,361.5 383.6,357.2 392.3,383.4 389.1,391.0 374.9,393.2 373.8,387.7" fill="#bdc7d5"/>
<polygon points="383.6,357.2 403.2,355.0 405.4,367.0 414.2,368.1 415.2,381.2 404.3,387.7 397.8,394.3 392.3,383.4" fill="#96a9c1"/>
<polygon points="364.0,396.4 372.7,391.0 374.9,400.8 368.4,409.5" fill="#f0efe9"/>
<polygon points="374.9,393.2 389.1,391.0 392.3,383.4 397.8,394.3 386.9,404.1 385.8,398.6 374.9,400.8 372.7,391.0" fill="#afbdce"/>
<polygon points="368.4,409.5 374.9,400.8 385.8,398.6 386.9,404.1 379.3,416.1 370.5,418.2" fill="#7a93b4"/>
<polygon points="349.8,407.3 364.0,405.2 368.4,409.5 370.5,418.2 379.3,416.1 372.7,427.0 366.2,433.5 359.6,437.9 356.4,429.2 352.0,420.4" fill="#516f99"/>
<polygon points="386.9,404.1 397.8,394.3 410.5,409.7 402.4,422.4 396.9,432.2 386.9,427.0 383.6,416.1" fill="#b7c4d3"/>
<polygon points="397.8,394.3 404.3,387.7 409.8,385.5 417.2,401.3 410.5,409.7" fill="#8098b7"/>
<polygon points="409.8,385.5 415.2,381.2 438.4,382.2 429.6,388.7 419.6,397.5 417.2,401.3" fill="#b9c5d3"/>
<polygon points="415.2,381.2 414.2,368.1 422.9,359.4 438.1,357.2 449.1,363.7 456.5,374.0 446.1,372.9 438.4,382.2" fill="#a1b2c6"/>
<polygon points="449.1,363.7 438.1,357.2 442.5,352.8 462.1,352.8 464.0,365.0 456.5,374.0" fill="#7a93b4"/>
<polygon points="372.7,427.0 379.3,416.1 383.6,416.1 386.9,427.0 396.9,432.2 389.9,436.1 382.2,444.9 373.7,454.4 369.5,460.0 361.8,462.0 360.7,442.2 366.2,433.5" fill="#93a7c1"/>
<polygon points="340.0,407.3 349.8,407.3 352.0,420.4 356.4,429.2 359.6,437.9 360.7,442.2 361.8,462.0 340.0,462.0" fill="#748eb1"/>
<polygon points="221.3,434.7 239.7,432.7 240.7,438.8 231.5,442.9 222.3,438.8" fill="#7a92b4"/>
<polygon points="227.4,440.9 240.7,438.8 243.7,449.0 231.5,450.0" fill="#6a87ac"/>
<polygon points="247.8,407.2 263.1,403.2 266.2,423.5 258.0,424.5 259.0,431.7 251.9,432.7" fill="#92a6c1"/>
<polygon points="264.1,400.1 273.3,401.1 274.3,411.3 272.3,422.5 266.2,423.5" fill="#879dbb"/>
<polygon points="273.3,401.1 289.6,399.1 290.6,409.3 274.3,411.3" fill="#6986aa"/>
<polygon points="258.0,424.5 272.3,422.5 273.3,430.7 259.0,431.7" fill="#6581a8"/>
<polygon points="268.2,430.7 280.4,428.6 283.5,442.9 273.3,445.9 270.2,437.8" fill="#5e7aa0"/>
<polygon points="214.2,415.4 224.4,413.3 226.4,425.6 216.2,427.6" fill="#dbdee2"/>
<polygon points="216.2,427.6 226.4,425.6 238.6,423.5 240.7,432.7 221.3,434.7 218.3,435.8" fill="#cdd4dc"/>
<polygon points="284.5,419.5 292.7,418.4 294.7,434.7 286.5,435.8" fill="#b3bfd0"/>
<polygon points="345.4,394.0 363.7,394.0 364.8,405.2 350.5,407.2 348.5,413.3" fill="#899fbc"/>
<polygon points="319.9,435.8 340.3,432.7 341.3,442.9 320.9,445.9" fill="#718baf"/>
<polygon points="308.7,447.0 341.3,442.9 342.3,462.0 308.7,462.0" fill="#55739b"/>
<polygon points="341.3,438.8 358.6,435.8 360.7,462.0 342.3,462.0" fill="#748eb1"/>
<polygon points="270.0,425.6 282.2,427.6 284.3,441.9 270.0,445.9" fill="#607ca3"/>
<polygon points="279.2,419.5 292.4,417.4 295.5,434.7 282.2,435.8" fill="#bdc7d5"/>
<polygon points="285.3,420.5 290.4,420.5 292.4,432.7 287.3,433.7" fill="#9badc4"/>
<polygon points="292.4,413.3 308.7,418.4 309.7,427.6 316.9,432.7 308.7,448.0 296.5,435.8" fill="#92a6c1"/>
</g>
<path d="M231.9 412.8 L245.0 405.2 L262.4 396.4 L282.1 379.0 L295.2 373.5 L310.4 370.3 L336.6 369.2 L375.0 359.4 L394.4 352.0 L405.3 347.6 L419.5 343.2 L437.0 342.2 L453.3 341.7 L462.1 337.1" fill="none" stroke="#4b5261" stroke-opacity="0.8" stroke-width="1.1"/>
</g>
<polygon points="126.5,384.4 437.0,289.2 442.4,306.2 449.0,321.4 461.0,333.4 472.5,344.3 467.0,354.0 460.0,363.7 453.4,371.4 446.9,376.8 436.0,379.0 427.2,385.5 416.3,395.3 412.0,401.9 405.4,409.5 398.9,420.4 393.4,430.2 386.9,433.5 379.3,442.2 370.5,452.0 366.0,458.0 156.0,458.0" fill="none" stroke="#383e4c" stroke-opacity="0.9" stroke-width="1.1"/>
<text x="47" y="267.5" font-family="'Liberation Sans',sans-serif" font-size="9" font-weight="400" fill="#555" textLength="27" lengthAdjust="spacingAndGlyphs" stroke="#f4f1ec" stroke-width="2" paint-order="stroke" stroke-linejoin="round">Bolton</text>
<text x="111.5" y="299.5" font-family="'Liberation Sans',sans-serif" font-size="9" font-weight="400" fill="#555" textLength="42" lengthAdjust="spacingAndGlyphs" stroke="#f4f1ec" stroke-width="2" paint-order="stroke" stroke-linejoin="round">Kleinburg</text>
<text x="210.4" y="266.3" font-family="'Liberation Sans',sans-serif" font-size="16.5" font-weight="400" fill="#2c2c2c" textLength="96.6" lengthAdjust="spacingAndGlyphs" stroke="#f4f1ec" stroke-width="2" paint-order="stroke" stroke-linejoin="round">Richmond Hill</text>
<text x="210.4" y="266.3" font-family="'Liberation Sans',sans-serif" font-size="16.5" font-weight="400" fill="#2c2c2c" stroke="#2c2c2c" stroke-width="0.1" textLength="96.6" lengthAdjust="spacingAndGlyphs">Richmond Hill</text>
<text x="300" y="291" font-family="'Liberation Sans',sans-serif" font-size="15.5" font-weight="400" fill="#2c2c2c" textLength="67" lengthAdjust="spacingAndGlyphs" stroke="#f4f1ec" stroke-width="2" paint-order="stroke" stroke-linejoin="round">Markham</text>
<text x="300" y="291" font-family="'Liberation Sans',sans-serif" font-size="15.5" font-weight="400" fill="#2c2c2c" stroke="#2c2c2c" stroke-width="0.1" textLength="67" lengthAdjust="spacingAndGlyphs">Markham</text>
<text x="170" y="346.5" font-family="'Liberation Sans',sans-serif" font-size="15.5" font-weight="400" fill="#2c2c2c" textLength="61.5" lengthAdjust="spacingAndGlyphs" stroke="#f4f1ec" stroke-width="2" paint-order="stroke" stroke-linejoin="round">Vaughan</text>
<text x="170" y="346.5" font-family="'Liberation Sans',sans-serif" font-size="15.5" font-weight="400" fill="#2c2c2c" stroke="#2c2c2c" stroke-width="0.1" textLength="61.5" lengthAdjust="spacingAndGlyphs">Vaughan</text>
<text x="10" y="445.5" font-family="'Liberation Sans',sans-serif" font-size="16" font-weight="400" fill="#2c2c2c" textLength="71.8" lengthAdjust="spacingAndGlyphs" stroke="#f4f1ec" stroke-width="2" paint-order="stroke" stroke-linejoin="round">Brampton</text>
<text x="10" y="445.5" font-family="'Liberation Sans',sans-serif" font-size="16" font-weight="400" fill="#2c2c2c" stroke="#2c2c2c" stroke-width="0.1" textLength="71.8" lengthAdjust="spacingAndGlyphs">Brampton</text>
<text x="395" y="268.8" font-family="'Liberation Sans',sans-serif" font-size="9.2" font-weight="400" fill="#6f9362" textLength="47.6" lengthAdjust="spacingAndGlyphs" stroke="#f4f1ec" stroke-width="2" paint-order="stroke" stroke-linejoin="round">Urban Park</text>
<text x="466.6" y="307.7" font-family="'Liberation Sans',sans-serif" font-size="11" font-weight="400" fill="#555" textLength="47.8" lengthAdjust="spacingAndGlyphs" stroke="#f4f1ec" stroke-width="2" paint-order="stroke" stroke-linejoin="round">Pickering</text>
<text x="519.9" y="293.3" font-family="'Liberation Sans',sans-serif" font-size="14" font-weight="400" fill="#2c2c2c" textLength="30" lengthAdjust="spacingAndGlyphs" stroke="#f4f1ec" stroke-width="2" paint-order="stroke" stroke-linejoin="round">Ajax</text>
<text x="519.9" y="293.3" font-family="'Liberation Sans',sans-serif" font-size="14" font-weight="400" fill="#2c2c2c" stroke="#2c2c2c" stroke-width="0.1" textLength="30" lengthAdjust="spacingAndGlyphs">Ajax</text>
<rect x="26.6" y="394.7" width="21" height="12" rx="2.5" fill="#fff" stroke="#444" stroke-width="1"/>
<text x="37.1" y="403.6" text-anchor="middle" font-family="'Liberation Sans',sans-serif" font-size="8" font-weight="700" fill="#333">410</text>
<rect x="4" y="383.4" width="10.6" height="10.6" rx="2" fill="#fff" stroke="#444" stroke-width="1"/>
<rect x="265.5" y="381.5" width="19.5" height="9.8" rx="2.2" fill="#b4c3d8" fill-opacity="0.7" stroke="#7487a5" stroke-width="0.8"/>
<text x="275.2" y="389.2" text-anchor="middle" font-family="'Liberation Sans',sans-serif" font-size="7.5" font-weight="700" fill="#7487a5">401</text>
<rect x="227.5" y="405.5" width="19.5" height="9.8" rx="2.2" fill="#b4c3d8" fill-opacity="0.7" stroke="#7487a5" stroke-width="0.8"/>
<text x="237.2" y="413.2" text-anchor="middle" font-family="'Liberation Sans',sans-serif" font-size="7.5" font-weight="700" fill="#7487a5">401</text>
<rect x="156.5" y="449" width="19.5" height="9.8" rx="2.2" fill="#b4c3d8" fill-opacity="0.7" stroke="#7487a5" stroke-width="0.8"/>
<text x="166.2" y="456.7" text-anchor="middle" font-family="'Liberation Sans',sans-serif" font-size="7.5" font-weight="700" fill="#7487a5">401</text>
<rect x="423.5" y="335" width="19.5" height="9.8" rx="2.2" fill="#b4c3d8" fill-opacity="0.7" stroke="#7487a5" stroke-width="0.8"/>
<text x="433.2" y="342.7" text-anchor="middle" font-family="'Liberation Sans',sans-serif" font-size="7.5" font-weight="700" fill="#7487a5">401</text>
</svg>
<div class="t" style="left:15.9px;top:15.22px;font-family:'Liberation Sans', sans-serif;font-weight:400;font-size:21.6px;color:#fff;-webkit-text-stroke:0.3px #fff;transform:scaleX(0.9136);">COVID-19</div>
<div class="t" style="left:114.4px;top:15.22px;font-family:'Liberation Sans', sans-serif;font-weight:400;font-size:21.6px;color:#fff;-webkit-text-stroke:0.3px #fff;transform:scaleX(1.0576);">Neighbourhood</div>
<div class="t" style="left:279.6px;top:15.22px;font-family:'Liberation Sans', sans-serif;font-weight:400;font-size:21.6px;color:#fff;-webkit-text-stroke:0.3px #fff;transform:scaleX(0.9409);">Cases</div>
<div class="t" style="left:342.6px;top:15.22px;font-family:'Liberation Sans', sans-serif;font-weight:400;font-size:21.6px;color:#fff;-webkit-text-stroke:0.3px #fff;transform:scaleX(1.0269);">and</div>
<div class="t" style="left:386.9px;top:15.22px;font-family:'Liberation Sans', sans-serif;font-weight:400;font-size:21.6px;color:#fff;-webkit-text-stroke:0.3px #fff;transform:scaleX(0.9677);">Rates</div>
<div class="t" style="left:449.3px;top:15.22px;font-family:'Liberation Sans', sans-serif;font-weight:400;font-size:21.6px;color:#fff;-webkit-text-stroke:0.3px #fff;transform:scaleX(1.0314);">(Archived)</div>
<div class="t" style="left:16px;top:44.36px;font-family:'Liberation Sans', sans-serif;font-weight:400;font-size:10.8px;color:#fff;-webkit-text-stroke:0.5px #fff;transform:scaleX(1.0567);">Data as of February 18, 2022 08:30 a.m.</div>
<div class="t" style="left:16px;top:61.11px;font-family:'Liberation Sans', sans-serif;font-weight:400;font-size:10.8px;color:#d3dbe6;transform:scaleX(1.1106);">Data source: The Public Health Case and Contact Management Solution (CCM);</div>
<div class="t" style="left:16px;top:78.11px;font-family:'Liberation Sans', sans-serif;font-weight:400;font-size:10.8px;color:#d3dbe6;transform:scaleX(1.0856);">Ontario Ministry of Health,</div>
<div class="t" style="left:16px;top:94.86px;font-family:'Liberation Sans', sans-serif;font-weight:400;font-size:10.8px;color:#d3dbe6;transform:scaleX(1.1157);">Intelli<span style="font-size:84%">HEALTH</span> Ontario population estimates</div>
<div class="t" style="left:16px;top:111.36px;font-family:'Liberation Sans', sans-serif;font-weight:400;font-size:10.8px;color:#d3dbe6;transform:scaleX(1.1149);">*Map reports on confirmed and probable cases of COVID-19</div>
<div class="t" style="left:378.3px;top:140.62px;font-family:'Liberation Serif', serif;font-weight:700;font-size:10px;color:#fff;word-spacing:1.359px;">Technical Notes</div>
<div class="t" style="left:467.5px;top:141.03px;font-family:'Liberation Serif', serif;font-weight:700;font-size:10px;color:#fff;transform:scaleX(0.9774);">Excel</div>
<div class="t" style="left:532.7px;top:141.62px;font-family:'Liberation Serif', serif;font-weight:700;font-size:10px;color:#fff;transform:scaleX(0.9510);">PDF</div>
<div class="t" style="left:616.8px;top:52.21px;font-family:'Liberation Serif', serif;font-weight:700;font-size:13px;color:#fff;word-spacing:3.959px;">Case/Rate Maps</div>
<div class="t" style="left:630.7px;top:121.55px;font-family:'Liberation Serif', serif;font-weight:400;font-size:12px;color:#111;word-spacing:1.572px;">Testing Maps</div>
<div class="t" style="left:10.5px;top:175.86px;font-family:'Liberation Serif', serif;font-weight:400;font-size:13px;color:#111;word-spacing:-0.463px;">Some neighbourhoods have higher COVID-19 rates because the people who live in</div>
<div class="t" style="left:10.5px;top:194.11px;font-family:'Liberation Serif', serif;font-weight:400;font-size:13px;color:#111;word-spacing:0.009px;">them face higher risk due to their living and working conditions.</div>
<div class="t" style="left:519px;top:186.91px;font-family:'Liberation Sans', sans-serif;font-weight:400;font-size:10.5px;color:#606060;transform:scaleX(1.0190);">More Info</div>
<div class="t" style="left:611px;top:179.11px;font-family:'Liberation Sans', sans-serif;font-weight:400;font-size:10.5px;color:#606060;transform:scaleX(1.0421);">Learn More About</div>
<div class="t" style="left:606.4px;top:193.91px;font-family:'Liberation Sans', sans-serif;font-weight:400;font-size:10.5px;color:#606060;transform:scaleX(1.0000);">COVID-19 Inequities</div>
<div class="t" style="left:21.95px;top:228.15px;font-family:'Liberation Sans', sans-serif;font-weight:400;font-size:14px;color:#fff;-webkit-text-stroke:0.2px #fff;transform:scaleX(1.1199);">Map</div>
<div class="t" style="left:55.2px;top:228.15px;font-family:'Liberation Sans', sans-serif;font-weight:400;font-size:14px;color:#fff;-webkit-text-stroke:0.2px #fff;transform:scaleX(1.1337);">of</div>
<div class="t" style="left:71.45px;top:228.15px;font-family:'Liberation Sans', sans-serif;font-weight:400;font-size:14px;color:#fff;-webkit-text-stroke:0.2px #fff;transform:scaleX(0.9919);">Recent</div>
<div class="t" style="left:120.2px;top:228.15px;font-family:'Liberation Sans', sans-serif;font-weight:400;font-size:14px;color:#fff;-webkit-text-stroke:0.2px #fff;transform:scaleX(0.9717);">COVID-19</div>
<div class="t" style="left:186.2px;top:228.15px;font-family:'Liberation Sans', sans-serif;font-weight:400;font-size:14px;color:#fff;-webkit-text-stroke:0.2px #fff;transform:scaleX(0.9979);">Rates</div>
<div class="t" style="left:226.7px;top:228.15px;font-family:'Liberation Sans', sans-serif;font-weight:400;font-size:14px;color:#fff;-webkit-text-stroke:0.2px #fff;transform:scaleX(0.9968);">by</div>
<div class="t" style="left:246.2px;top:228.15px;font-family:'Liberation Sans', sans-serif;font-weight:400;font-size:14px;color:#fff;-webkit-text-stroke:0.2px #fff;transform:scaleX(1.0783);">Neighbourhood</div>
<div class="t" style="left:352.95px;top:228.15px;font-family:'Liberation Sans', sans-serif;font-weight:400;font-size:14px;color:#fff;-webkit-text-stroke:0.2px #fff;transform:scaleX(1.6589);">-</div>
<div class="t" style="left:374.8px;top:228.15px;font-family:'Liberation Sans', sans-serif;font-weight:400;font-size:14px;color:#fff;-webkit-text-stroke:0.2px #fff;transform:scaleX(1.0043);">January 29, 2022  to February 18, 2022</div>
<div class="t" style="left:561.7px;top:265.55px;font-family:'Liberation Serif', serif;font-weight:400;font-size:12px;color:#111;word-spacing:3.144px;">Select Map:</div>
<div class="t" style="left:564.5px;top:291.54px;font-family:'Liberation Serif', serif;font-weight:400;font-size:9.5px;color:#111;word-spacing:0.009px;">Cases per 100,000 people (rate)</div>
<div class="t" style="left:579.4px;top:327.65px;font-family:'Liberation Serif', serif;font-weight:400;font-size:12px;color:#111;word-spacing:1.188px;">Recent Cases*</div>
<div class="t" style="left:579.4px;top:347.55px;font-family:'Liberation Serif', serif;font-weight:400;font-size:12px;color:#111;word-spacing:1.256px;">All Cases</div>
<div class="t" style="left:562.4px;top:384.01px;font-family:'Liberation Serif', serif;font-weight:400;font-size:10.5px;color:#222;transform:scaleX(0.9973);">Select:</div>
<div class="t" style="left:562.4px;top:400.21px;font-family:'Liberation Serif', serif;font-weight:400;font-size:10.5px;color:#222;word-spacing:1.688px;">All Toronto cases OR</div>
<div class="t" style="left:562.4px;top:416.01px;font-family:'Liberation Serif', serif;font-weight:400;font-size:10.5px;color:#222;word-spacing:2.135px;">Only long-term care home</div>
<div class="t" style="left:562.4px;top:432.01px;font-family:'Liberation Serif', serif;font-weight:400;font-size:10.5px;color:#222;word-spacing:2.109px;">and retirement home cases</div>
</body></html>
